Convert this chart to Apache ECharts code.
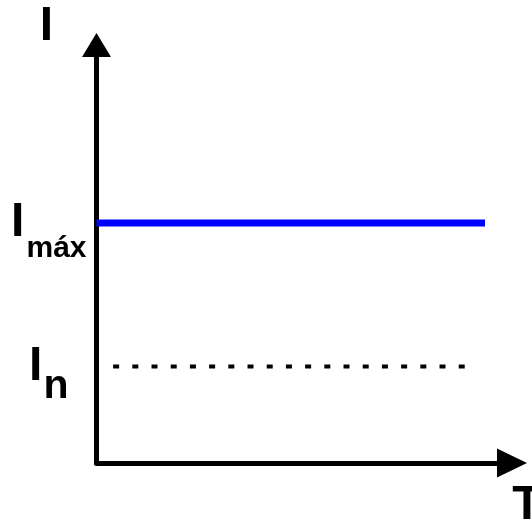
<!DOCTYPE html>
<html>
<head>
<meta charset="utf-8">
<style>
  html, body { margin: 0; padding: 0; background: #fff; }
  #chart { width: 532px; height: 525px; }
</style>
<script src="https://cdn.jsdelivr.net/npm/echarts@6/dist/echarts.min.js"></script>
</head>
<body>
<div id="chart"></div>
<script>
// current levels (schematic scale 0-100)
const levelNames = ['máx', 'n'];
const levelValues = [57.4, 23.1];
const lineStarts = [0, 4];
const lineEnds = [93.5, 88.9];

const FONT = 'Liberation Sans, Arial, sans-serif';

const chart = echarts.init(document.getElementById('chart'));

const option = {
  animation: false,
  grid: { left: 96.5, right: 20, top: 45, bottom: 62, outerBoundsMode: 'none' },
  xAxis: {
    type: 'value',
    min: 0,
    max: 100,
    name: 'T',
    nameLocation: 'end',
    nameGap: 15,
    nameTextStyle: {
      fontFamily: FONT, fontSize: 48, fontWeight: 'bold', color: '#000',
      align: 'center', verticalAlign: 'top', lineHeight: 48,
      padding: [19, 0, 0, 0]
    },
    axisLine: {
      lineStyle: { color: '#000', width: 5 },
      symbol: ['none', 'triangle'],
      symbolSize: [29, 30]
    },
    axisTick: { show: false },
    axisLabel: { show: false },
    splitLine: { show: false }
  },
  yAxis: {
    type: 'value',
    min: 0,
    max: 100,
    name: 'I',
    nameLocation: 'end',
    nameGap: 18,
    nameTextStyle: {
      fontFamily: FONT, fontSize: 48, fontWeight: 'bold', color: '#000',
      align: 'center', verticalAlign: 'middle', lineHeight: 48,
      padding: [0, 100, 0, 0]
    },
    axisLine: {
      lineStyle: { color: '#000', width: 5 },
      symbol: ['none', 'triangle'],
      symbolSize: [29, 24]
    },
    axisTick: { show: false },
    splitLine: { show: false },
    axisLabel: {
      customValues: levelValues,
      margin: 10,
      formatter: function (v) {
        const i = levelValues.indexOf(v);
        if (i === 0) return '{big|I}{sub|' + levelNames[0] + '}';
        if (i === 1) return '{big|I}{sub2|' + levelNames[1] + '}';
        return '';
      },
      rich: {
        big: {
          fontFamily: FONT, fontSize: 48, fontWeight: 'bold', color: '#000',
          lineHeight: 48
        },
        sub: {
          fontFamily: FONT, fontSize: 30, fontWeight: 'bold', color: '#000',
          lineHeight: 30, padding: [52, 0, 0, 2]
        },
        sub2: {
          fontFamily: FONT, fontSize: 41, fontWeight: 'bold', color: '#000',
          lineHeight: 41, padding: [40, 18, 0, 1]
        }
      }
    }
  },
  series: [
    {
      name: 'I' + levelNames[0],
      type: 'line',
      symbol: 'none',
      z: 3,
      lineStyle: { color: '#0000ff', width: 7 },
      data: [[lineStarts[0], levelValues[0]], [lineEnds[0], levelValues[0]]]
    },
    {
      name: 'I' + levelNames[1],
      type: 'line',
      symbol: 'none',
      lineStyle: { color: '#000', width: 4, type: [6, 13.2] },
      data: [[lineStarts[1], levelValues[1]], [lineEnds[1], levelValues[1]]]
    }
  ]
};

chart.setOption(option);
</script>
</body>
</html>
